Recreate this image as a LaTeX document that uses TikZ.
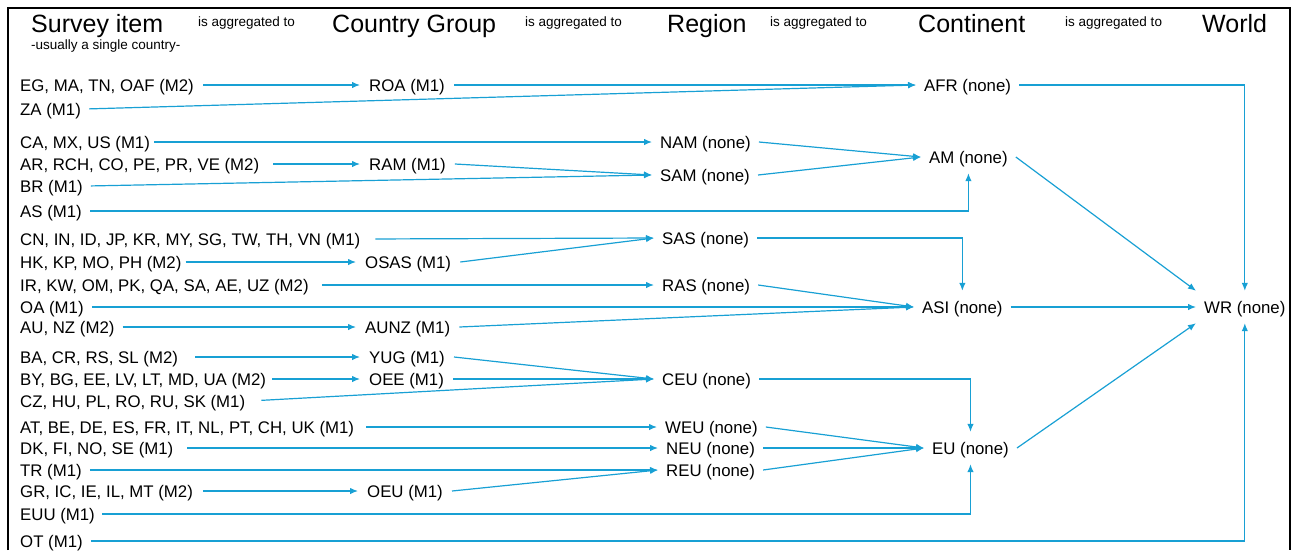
\documentclass[tikz,border=0pt]{standalone}
\usepackage{fontspec}
\setmainfont{Liberation Sans}
\usetikzlibrary{arrows.meta}
\definecolor{aggblue}{RGB}{24,160,212}

\begin{document}
\begin{tikzpicture}[x=1pt, y=-1pt, >={Latex[length=8pt,width=6.5pt]},
        link/.style={->, draw=aggblue, line width=1.2pt},
        item/.style={anchor=west, font=\fontsize{16.8}{18}\selectfont, inner xsep=4pt, inner ysep=9pt, text height=13pt, text depth=1pt},
        group/.style={item, inner xsep=9pt},
        level/.style={item, inner xsep=8pt},
        head/.style={anchor=base west, inner sep=0pt, font=\fontsize{25}{28}\selectfont},
        note/.style={anchor=base west, inner sep=0pt, font=\fontsize{13.5}{15}\selectfont}]
            \useasboundingbox (0,0) rectangle (1301,550);
            \draw[line width=1.6pt] (8,550) -- (8,8) -- (1290,8) -- (1290,550);

            \node[head] (hsurvey) at (31,32) {Survey item};
            \node[note] (husual) at (31,49) {-usually a single country-};
            \node[head] (hgroup) at (332,32) {Country Group};
            \node[head] (hregion) at (667,32) {Region};
            \node[head] (hcont) at (918,32) {Continent};
            \node[head] (hworld) at (1202,32) {World};
            \foreach \x/\name in {198/agg1, 525/agg2, 770/agg3, 1065/agg4}
                \node[note] (\name) at (\x,26) {is aggregated to};

            \foreach \name/\y/\txt in {eg/85/{EG, MA, TN, OAF (M2)}, za/109/{ZA (M1)},
                    ca/142/{CA, MX, US (M1)}, ar/164/{AR, RCH, CO, PE, PR, VE (M2)},
                    br/186/{BR (M1)}, as1/211/{AS (M1)},
                    cn/239/{CN, IN, ID, JP, KR, MY, SG, TW, TH, VN (M1)}, hk/262/{HK, KP, MO, PH (M2)},
                    ir/285/{IR, KW, OM, PK, QA, SA, AE, UZ (M2)}, oa/307/{OA (M1)}, au/327/{AU, NZ (M2)},
                    ba/357/{BA, CR, RS, SL (M2)}, by/379/{BY, BG, EE, LV, LT, MD, UA (M2)},
                    cz/401/{CZ, HU, PL, RO, RU, SK (M1)}, at1/427/{AT, BE, DE, ES, FR, IT, NL, PT, CH, UK (M1)},
                    dk/448/{DK, FI, NO, SE (M1)}, tr/470/{TR (M1)}, gr/491/{GR, IC, IE, IL, MT (M2)},
                    euu/514/{EUU (M1)}, ot/541/{OT (M1)}}
                \node[item] (\name) at (16,\y) {\txt};

            \node[group] (roa) at (360,85) {ROA (M1)};
            \node[group] (ram) at (360,164) {RAM (M1)};
            \node[group] (osas) at (356,262) {OSAS (M1)};
            \node[group] (aunz) at (356,327) {AUNZ (M1)};
            \node[group] (yug) at (360,357) {YUG (M1)};
            \node[group] (oee) at (360,379) {OEE (M1)};
            \node[group] (oeu) at (358,491) {OEU (M1)};

            \node[level] (nam) at (652,142) {NAM (none)};
            \node[level] (sam) at (652,175) {SAM (none)};
            \node[level] (sas) at (654,238) {SAS (none)};
            \node[level] (ras) at (654,285) {RAS (none)};
            \node[level] (ceu) at (654,379) {CEU (none)};
            \node[level] (weu) at (657,427) {WEU (none)};
            \node[level] (neu) at (658,448) {NEU (none)};
            \node[level] (reu) at (658,470) {REU (none)};

            \node[level] (afr) at (916,85) {AFR (none)};
            \node[level] (am) at (921,157) {AM (none)};
            \node[level] (asi) at (914,307) {ASI (none)};
            \node[level] (eu) at (924,448) {EU (none)};
            \node[level] (wr) at (1196,307) {WR (none)};

            \foreach \a/\b/\s in {eg/roa/5, za/afr/4, ca/nam/0, ar/ram/10, br/sam/4,
                    cn/sas/11, hk/osas/0, ir/ras/9, oa/asi/4, au/aunz/4,
                    ba/yug/13, by/oee/2, cz/ceu/12, at1/weu/8, dk/neu/10, tr/reu/4, gr/oeu/6}
                \draw[link, shorten <=\s pt] (\a.east) -- (\b.west);
            \foreach \a/\b in {roa/afr, ram/sam, nam/am, sam/am, osas/sas, aunz/asi, ras/asi,
                    yug/ceu, oee/ceu, oeu/reu, weu/eu, neu/eu, reu/eu, asi/wr}
                \draw[link] (\a.east) -- (\b.west);

            \draw[link, shorten <=4pt] (as1.east) -| (am.south);
            \draw[link] (sas.east) -| (asi.north);
            \draw[link] (ceu.east) -| (eu.north);
            \draw[link, shorten <=3pt] (euu.east) -| (eu.south);
            \draw[link] (afr.east) -| (wr.north);
            \draw[link, shorten <=4pt] (ot.east) -| (wr.south);
            \draw[link] (am.east) -- (wr.north west);
            \draw[link] (eu.east) -- (wr.south west);
\end{tikzpicture}
\end{document}
